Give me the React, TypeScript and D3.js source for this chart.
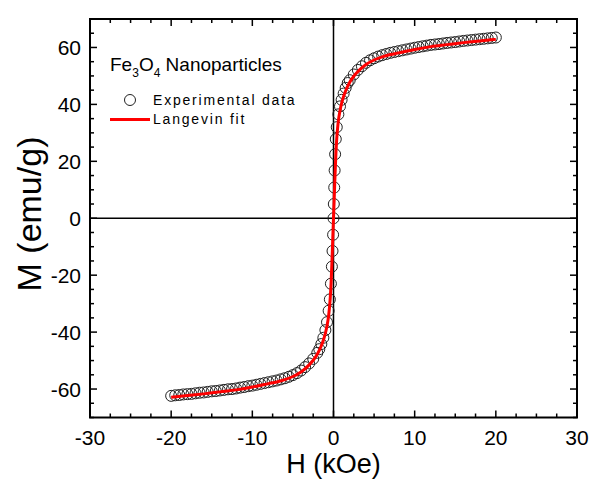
import React from 'react';
import * as d3 from 'd3';

// Experimental data (H in kOe, M in emu/g)
const H_DATA = [
  -20, -19.5, -19, -18.5, -18, -17.5, -17, -16.5, -16, -15.5, -15, -14.5, -14, -13.5, -13, -12.5, -12, -11.5, -11, -10.5,
  -10, -9.5, -9, -8.5, -8, -7.5, -7, -6.5, -6, -5.5, -5, -4.5, -4, -3.5, -3, -2.5, -2,
  -1.75, -1.5, -1.25, -1.0, -0.8, -0.6, -0.45, -0.32, -0.2, -0.12, -0.05, 0, 0.04, 0.09, 0.14, 0.2, 0.28, 0.4, 0.6, 0.8, 1.0, 1.25, 1.5, 1.75,
  2, 2.5, 3, 3.5, 4, 4.5, 5, 5.5, 6, 6.5, 7, 7.5, 8, 8.5, 9, 9.5, 10, 10.5, 11, 11.5,
  12, 12.5, 13, 13.5, 14, 14.5, 15, 15.5, 16, 16.5, 17, 17.5, 18, 18.5, 19, 19.5, 20,
];
const M_DATA = [
  -62.4, -62.2, -62.1, -61.9, -61.8, -61.7, -61.5, -61.3, -61.2, -61.0, -60.8, -60.7, -60.5, -60.3, -60.1, -60.0, -59.8, -59.5, -59.3, -59.0,
  -58.8, -58.5, -58.2, -57.9, -57.6, -57.3, -57.0, -56.6, -56.2, -55.7, -55.1, -54.4, -53.5, -52.3, -51.0, -49.4, -47.3,
  -46.0, -44.2, -42.0, -39.3, -36.5, -32.5, -28.5, -23.0, -17.0, -11.5, -5.8, 0.0, 5.0, 10.8, 16.8, 22.5, 27.8, 32.0, 36.5, 39.3, 41.6, 43.8, 45.8, 47.5,
  48.5, 50.5, 52.1, 53.4, 54.6, 55.5, 56.2, 56.8, 57.3, 57.7, 58.1, 58.4, 58.7, 59.0, 59.3, 59.6, 59.9, 60.15, 60.4, 60.65,
  60.9, 61.05, 61.2, 61.4, 61.6, 61.75, 61.9, 62.1, 62.3, 62.45, 62.6, 62.75, 62.9, 63.05, 63.2, 63.35, 63.5,
];

// Langevin fit curve
const H_FIT = [
  -20, -18, -16, -14, -12, -10, -8, -7, -6, -5, -4, -3, -2.5, -2, -1.5, -1.2, -1, -0.8, -0.6, -0.5, -0.4, -0.3, -0.2, -0.1,
  0,
  0.1, 0.2, 0.3, 0.4, 0.5, 0.6, 0.8, 1, 1.2, 1.5, 2, 2.5, 3, 4, 5, 6, 7, 8, 10, 12, 14, 16, 18, 20,
];
const M_FIT = [
  -62.9, -62.3, -61.7, -61.0, -60.3, -59.3, -58.1, -57.5, -56.7, -55.6, -54.0, -51.5, -49.9, -47.8, -44.8, -42.4, -40.4, -37.8, -34.2, -31.5, -28.0, -23.0, -16.0, -8.0,
  0,
  8.0, 16.0, 23.0, 28.0, 31.5, 34.2, 37.8, 40.4, 42.4, 44.8, 47.8, 49.9, 51.5, 54.0, 55.6, 56.7, 57.5, 58.1, 59.3, 60.3, 61.0, 61.7, 62.3, 62.9,
];

const X_TICKS = [-30, -20, -10, 0, 10, 20, 30];
const Y_TICKS = [-60, -40, -20, 0, 20, 40, 60];
const X_MINOR = d3.range(-30, 30.001, 2.5);
const Y_MINOR = d3.range(-70, 70.001, 5);

const FONT = 'Arial, "Liberation Sans", sans-serif';

export default function App() {
  const W = 592;
  const HH = 480;
  const L = 90, R = 577, T = 19, B = 417.5;
  const x = d3.scaleLinear().domain([-30, 30]).range([L, R]);
  const y = d3.scaleLinear().domain([-70, 70]).range([B, T]);

  const pts = H_DATA.map((h, i) => [h, M_DATA[i]] as [number, number]);
  const fit = H_FIT.map((h, i) => [h, M_FIT[i]] as [number, number]);
  const line = d3
    .line<[number, number]>()
    .x((d) => x(d[0]))
    .y((d) => y(d[1]))
    .curve(d3.curveMonotoneX);

  const isMajorX = (v: number) => Math.abs(v % 10) < 1e-6;
  const isMajorY = (v: number) => Math.abs(v % 20) < 1e-6;
  const MAJ = 7, MIN = 4;

  return (
    <svg width={W} height={HH} style={{ position: 'absolute', left: 0, top: 0, background: '#fff' }} fontFamily={FONT}>
      <rect x={0} y={0} width={W} height={HH} fill="#fff" />
      {/* zero lines */}
      <line x1={x(0)} x2={x(0)} y1={T} y2={B} stroke="#000" strokeWidth={1.5} />
      <line x1={L} x2={R} y1={y(0)} y2={y(0)} stroke="#000" strokeWidth={1.5} />

      {/* ticks */}
      {X_MINOR.map((v) => {
        const len = isMajorX(v) ? MAJ : MIN;
        return (
          <g key={'xt' + v}>
            <line x1={x(v)} x2={x(v)} y1={B} y2={B - len} stroke="#000" strokeWidth={1.5} />
            <line x1={x(v)} x2={x(v)} y1={T} y2={T + len} stroke="#000" strokeWidth={1.5} />
          </g>
        );
      })}
      {Y_MINOR.map((v) => {
        const len = isMajorY(v) ? MAJ : MIN;
        return (
          <g key={'yt' + v}>
            <line x1={L} x2={L + len} y1={y(v)} y2={y(v)} stroke="#000" strokeWidth={1.5} />
            <line x1={R} x2={R - len} y1={y(v)} y2={y(v)} stroke="#000" strokeWidth={1.5} />
          </g>
        );
      })}

      {/* frame */}
      <rect x={L} y={T} width={R - L} height={B - T} fill="none" stroke="#000" strokeWidth={2} />

      {/* tick labels */}
      {X_TICKS.map((v) => (
        <text key={'xl' + v} x={x(v)} y={445} textAnchor="middle" fontSize={21} fill="#000">
          {v}
        </text>
      ))}
      {Y_TICKS.map((v) => (
        <text key={'yl' + v} x={81} y={y(v) + 7.5} textAnchor="end" fontSize={21} fill="#000">
          {v}
        </text>
      ))}

      {/* axis titles */}
      <text x={x(0)} y={473} textAnchor="middle" fontSize={27} fill="#000">
        H (kOe)
      </text>
      <text transform={`translate(41,${214}) rotate(-90)`} textAnchor="middle" fontSize={34} fill="#000">
        M (emu/g)
      </text>

      {/* data points */}
      {pts.map((d, i) => (
        <circle key={'p' + i} cx={x(d[0])} cy={y(d[1])} r={5.5} fill="none" stroke="#222" strokeWidth={1} />
      ))}

      {/* fit line */}
      <path d={line(fit) || ''} fill="none" stroke="#ff0000" strokeWidth={3} />

      {/* legend */}
      <text x={110} y={71} fontSize={19} fill="#000">
        Fe<tspan fontSize={12} dy={6}>3</tspan>
        <tspan dy={-6}>O</tspan>
        <tspan fontSize={12} dy={6}>4</tspan>
        <tspan dy={-6}> Nanoparticles</tspan>
      </text>
      <circle cx={130} cy={100} r={5.5} fill="none" stroke="#222" strokeWidth={1} />
      <text x={153} y={105} fontSize={14} letterSpacing={1.8} fill="#000">
        Experimental data
      </text>
      <line x1={110} x2={150} y1={119.5} y2={119.5} stroke="#ff0000" strokeWidth={3} />
      <text x={153} y={124} fontSize={14} letterSpacing={1.8} fill="#000">
        Langevin fit
      </text>
    </svg>
  );
}
